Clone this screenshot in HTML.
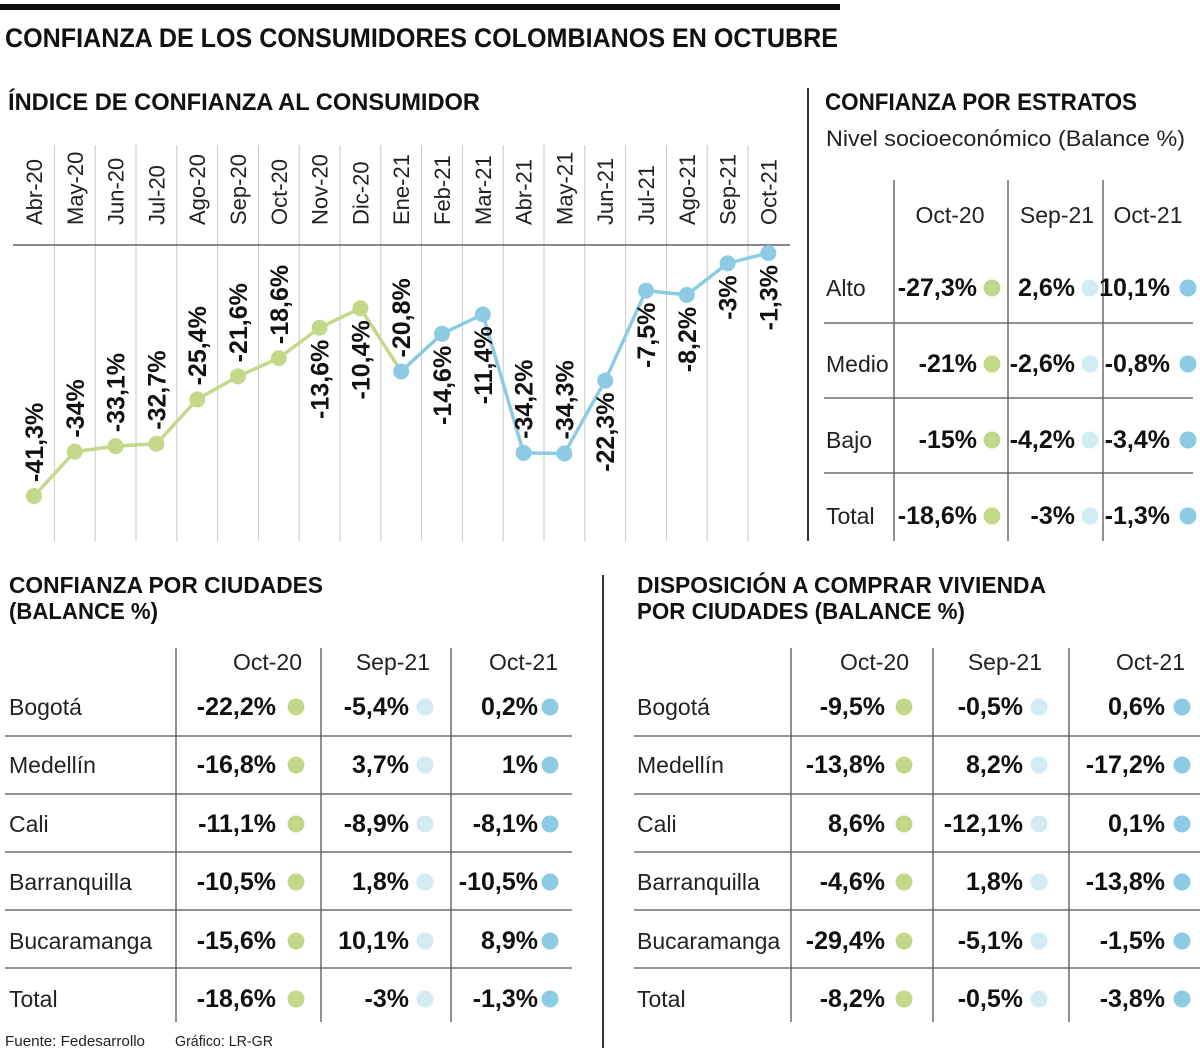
<!DOCTYPE html>
<html><head><meta charset="utf-8">
<style>
html,body{margin:0;padding:0;background:#fff;}
svg{display:block;font-family:"Liberation Sans",sans-serif;}
</style></head>
<body>
<svg id="page" width="1200" height="1051" viewBox="0 0 1200 1051" xmlns="http://www.w3.org/2000/svg">
<rect x="0" y="0" width="1200" height="1051" fill="#fff"/>
<rect x="0" y="4" width="840" height="6" fill="#111"/>
<text x="5" y="47" font-size="27" font-weight="bold" textLength="833" lengthAdjust="spacingAndGlyphs" fill="#111">CONFIANZA DE LOS CONSUMIDORES COLOMBIANOS EN OCTUBRE</text>
<text x="8" y="110" font-size="24" font-weight="bold" textLength="472" lengthAdjust="spacingAndGlyphs" fill="#111">ÍNDICE DE CONFIANZA AL CONSUMIDOR</text>
<line x1="808" y1="88" x2="808" y2="541" stroke="#333" stroke-width="2"/>
<text x="825" y="110" font-size="24" font-weight="bold" textLength="312" lengthAdjust="spacingAndGlyphs" fill="#111">CONFIANZA POR ESTRATOS</text>
<text x="826" y="146" font-size="22" textLength="359" lengthAdjust="spacingAndGlyphs" fill="#222">Nivel socioeconómico (Balance %)</text>
<text x="9" y="593" font-size="23" font-weight="bold" textLength="314" lengthAdjust="spacingAndGlyphs" fill="#111">CONFIANZA POR CIUDADES</text>
<text x="9" y="619" font-size="23" font-weight="bold" textLength="149" lengthAdjust="spacingAndGlyphs" fill="#111">(BALANCE %)</text>
<line x1="603" y1="575" x2="603" y2="1048" stroke="#333" stroke-width="2"/>
<text x="637" y="593" font-size="23" font-weight="bold" textLength="409" lengthAdjust="spacingAndGlyphs" fill="#111">DISPOSICIÓN A COMPRAR VIVIENDA</text>
<text x="637" y="619" font-size="23" font-weight="bold" textLength="328" lengthAdjust="spacingAndGlyphs" fill="#111">POR CIUDADES (BALANCE %)</text>
<text x="5" y="1046" font-size="15" textLength="140" lengthAdjust="spacingAndGlyphs" fill="#222">Fuente: Fedesarrollo</text>
<text x="175" y="1046" font-size="15" textLength="98" lengthAdjust="spacingAndGlyphs" fill="#222">Gráfico: LR-GR</text>
<g id="chart"></g>
<g id="tables"></g>
</svg>
<script>
const months = ["Abr-20","May-20","Jun-20","Jul-20","Ago-20","Sep-20","Oct-20","Nov-20","Dic-20","Ene-21","Feb-21","Mar-21","Abr-21","May-21","Jun-21","Jul-21","Ago-21","Sep-21","Oct-21"];
const indexValues = [-41.3,-34,-33.1,-32.7,-25.4,-21.6,-18.6,-13.6,-10.4,-20.8,-14.6,-11.4,-34.2,-34.3,-22.3,-7.5,-8.2,-3,-1.3];
const indexLabels = ["-41,3%","-34%","-33,1%","-32,7%","-25,4%","-21,6%","-18,6%","-13,6%","-10,4%","-20,8%","-14,6%","-11,4%","-34,2%","-34,3%","-22,3%","-7,5%","-8,2%","-3%","-1,3%"];
const labelAbove = [1,1,1,1,1,1,1,0,0,1,0,0,1,1,0,0,0,0,0];
const greenCount = 10;

const strataCols = ["Oct-20","Sep-21","Oct-21"];
const strataRows = ["Alto","Medio","Bajo","Total"];
const strataVals = [["-27,3%","2,6%","10,1%"],["-21%","-2,6%","-0,8%"],["-15%","-4,2%","-3,4%"],["-18,6%","-3%","-1,3%"]];

const cityRows = ["Bogotá","Medellín","Cali","Barranquilla","Bucaramanga","Total"];
const cityCols = ["Oct-20","Sep-21","Oct-21"];
const cityVals = [["-22,2%","-5,4%","0,2%"],["-16,8%","3,7%","1%"],["-11,1%","-8,9%","-8,1%"],["-10,5%","1,8%","-10,5%"],["-15,6%","10,1%","8,9%"],["-18,6%","-3%","-1,3%"]];
const housingVals = [["-9,5%","-0,5%","0,6%"],["-13,8%","8,2%","-17,2%"],["8,6%","-12,1%","0,1%"],["-4,6%","1,8%","-13,8%"],["-29,4%","-5,1%","-1,5%"],["-8,2%","-0,5%","-3,8%"]];

const NS="http://www.w3.org/2000/svg";
const colColors=["#c4d88a","#d3ebf4","#8ccbe3"];
function mk(tag,attrs,parent,txt){const e=document.createElementNS(NS,tag);for(const k in attrs)e.setAttribute(k,attrs[k]);if(txt!==undefined)e.textContent=txt;parent.appendChild(e);return e;}

const chart=document.getElementById('chart');
const xPos=i=>34+i*40.8;
const yPos=v=>253+(-1.3-v)*6.075;
for(let i=0;i<months.length-1;i++){
  const l=mk('line',{x1:xPos(i)+20.4,y1:145,x2:xPos(i)+20.4,y2:541,stroke:'#c8c8c8','stroke-width':1},chart);
  
  
}
const ax=mk('line',{x1:13,y1:245,x2:790,y2:245,stroke:'#444','stroke-width':1.3},chart);


months.forEach((m,i)=>{
  const t=mk('text',{x:0,y:0,transform:`translate(${xPos(i)+8},225) rotate(-90)`,'font-size':22,fill:'#222'},chart,m);
  
  
});
function seg(a,b,color,name){
  const pts=[];for(let i=a;i<=b;i++)pts.push(xPos(i)+','+yPos(indexValues[i]));
  const p=mk('polyline',{points:pts.join(' '),fill:'none',stroke:color,'stroke-width':3.5,'stroke-linejoin':'round'},chart);
  
  
}
seg(0,greenCount-1,'#c4d88a','line-2020');
seg(greenCount-1,months.length-1,'#8ccbe3','line-2021');
indexValues.forEach((v,i)=>{
  const c=mk('circle',{cx:xPos(i),cy:yPos(v),r:8,fill:i<greenCount-1?'#c4d88a':'#8ccbe3'},chart);
  
  
  const y=yPos(v);
  const attrs=labelAbove[i]?{x:0,y:0,transform:`translate(${xPos(i)+9},${y-14}) rotate(-90)`,'font-size':25,'font-weight':'bold',fill:'#111'}
    :{x:0,y:0,transform:`translate(${xPos(i)+9},${y+12}) rotate(-90)`,'font-size':25,'font-weight':'bold',fill:'#111','text-anchor':'end'};
  const t=mk('text',attrs,chart,indexLabels[i]);
  
  
});

const tables=document.getElementById('tables');
function table(cfg){
  const g=mk('g',{},tables);
  
  
  cfg.vlines.forEach(x=>{const l=mk('line',{x1:x,y1:cfg.vTop,x2:x,y2:cfg.vBot,stroke:'#555','stroke-width':1.3},g);
    
    });
  cfg.hlines.forEach(y=>{const l=mk('line',{x1:cfg.hL,y1:y,x2:cfg.hR,y2:y,stroke:'#555','stroke-width':1.3},g);
    
    });
  cfg.cols.forEach((c,j)=>{const t=mk('text',{x:cfg.headX[j],y:cfg.headY,'font-size':cfg.hfs,fill:'#222','text-anchor':cfg.headAnchor},g,c);
    
    });
  cfg.rows.forEach((r,i)=>{
    const y=cfg.rowY[i];
    const t=mk('text',{x:cfg.labelX,y:y,'font-size':cfg.fs,fill:'#222'},g,r);
    
    
    cfg.vals[i].forEach((v,j)=>{
      const tv=mk('text',{x:cfg.valX[j],y:y,'font-size':cfg.vfs,'font-weight':'bold',fill:'#111','text-anchor':'end'},g,v);
      
      
      const d=mk('circle',{cx:cfg.dotX[j],cy:y-8,r:8.5,fill:colColors[j]},g);
      
      
    });
  });
}
table({name:'strata-table',vlines:[894,1008,1103],vTop:180,vBot:541,hlines:[323,398,473],hL:824,hR:1193,
  cols:strataCols,headX:[950,1057,1148],headY:223,headAnchor:'middle',hfs:23,rows:strataRows,rowY:[296,372,448,524],
  labelX:826,fs:23,vals:strataVals,valX:[977,1075,1170],dotX:[992,1090,1188],vfs:25});
table({name:'cities-table',vlines:[176,321,451],vTop:648,vBot:1022,hlines:[736,794,852,910,968],hL:5,hR:572,
  cols:cityCols,headX:[302,430,558],headY:670,headAnchor:'end',hfs:23,rows:cityRows,rowY:[715,773,832,890,949,1007],
  labelX:9,fs:23,vals:cityVals,valX:[276,409,538],dotX:[296,425,550],vfs:25});
table({name:'housing-table',vlines:[791,933,1069],vTop:648,vBot:1022,hlines:[736,794,852,910,968],hL:634,hR:1200,
  cols:cityCols,headX:[909,1042,1185],headY:670,headAnchor:'end',hfs:23,rows:cityRows,rowY:[715,773,832,890,949,1007],
  labelX:637,fs:23,vals:housingVals,valX:[885,1023,1165],dotX:[904,1039,1182],vfs:25});
</script>
</body></html>
